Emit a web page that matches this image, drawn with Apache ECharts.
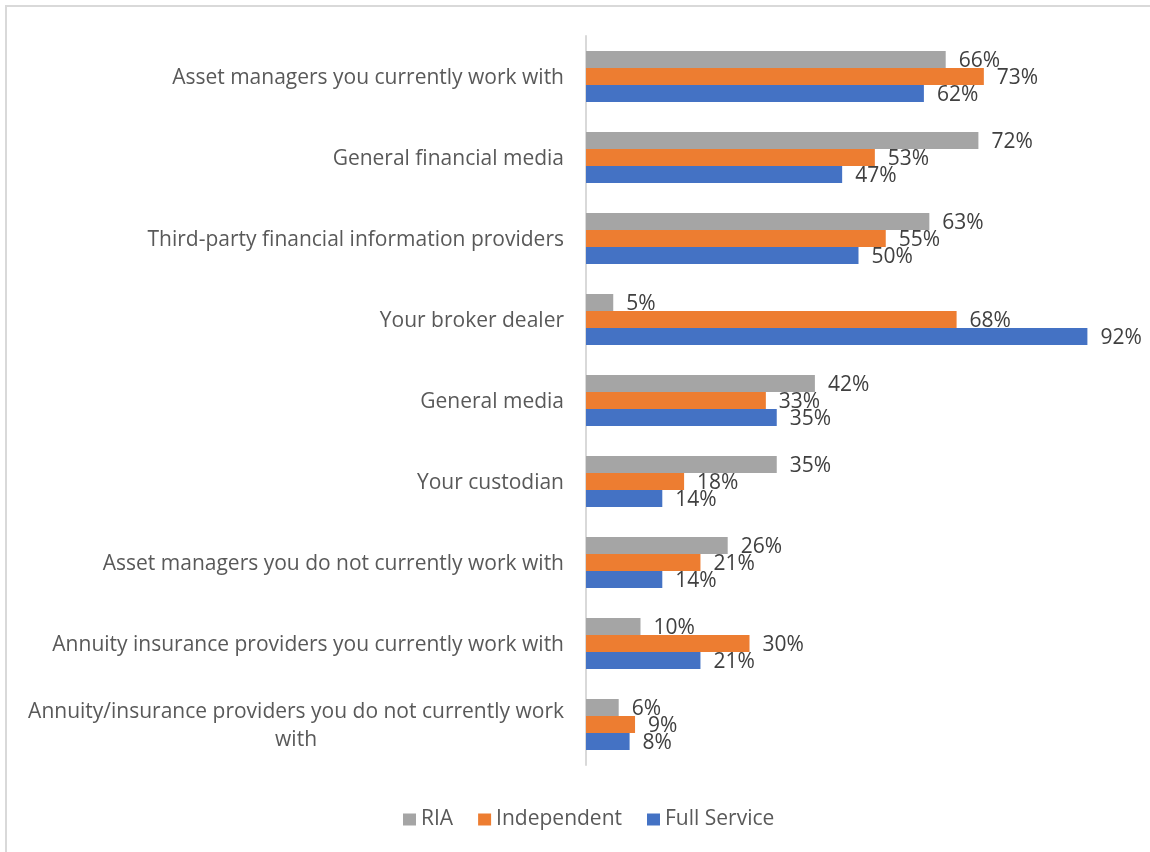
<!DOCTYPE html>
<html>
<head>
<meta charset="utf-8">
<script src="https://cdn.jsdelivr.net/npm/echarts@6/dist/echarts.min.js"></script>
<style>
  html, body { margin: 0; padding: 0; background: #ffffff; }
  #chart { width: 1150px; height: 852px; }
</style>
</head>
<body>
<div id="chart"></div>
<script>
// Information sources used, by advisor channel (share of respondents, %)
const categories = [
  'Asset managers you currently work with',
  'General financial media',
  'Third-party financial information providers',
  'Your broker dealer',
  'General media',
  'Your custodian',
  'Asset managers you do not currently work with',
  'Annuity insurance providers you currently work with',
  'Annuity/insurance providers you do not currently work\nwith'
];
const seriesNames = ['RIA', 'Independent', 'Full Service'];
const ria         = [66, 72, 63, 5, 42, 35, 26, 10, 6];
const independent = [73, 53, 55, 68, 33, 18, 21, 30, 9];
const fullService = [62, 47, 50, 92, 35, 14, 14, 21, 8];
const colors = ['#A5A5A5', '#ED7D31', '#4472C4'];

const FONT = '"Open Sans"';
const FONT_SIZE = 21;

function barSeries(name, values, color) {
  return {
    name: name,
    type: 'bar',
    data: values,
    barWidth: 17,
    barGap: '0%',
    itemStyle: { color: color },
    label: {
      show: true,
      position: 'right',
      distance: 13,
      offset: [0, 2],
      formatter: p => p.value + '%',
      fontFamily: FONT,
      fontSize: FONT_SIZE,
      color: '#404040'
    }
  };
}

const chart = echarts.init(document.getElementById('chart'), null, { renderer: 'canvas' });
chart.setOption({
  animation: false,
  backgroundColor: '#ffffff',
  textStyle: { fontFamily: FONT },
  graphic: [{
    type: 'rect',
    shape: { x: 6, y: 6, width: 1200, height: 900 },
    style: { fill: 'none', stroke: '#d9d9d9', lineWidth: 2 },
    silent: true
  }],
  grid: { left: 586, right: 19, top: 36, bottom: 87 },
  legend: {
    data: seriesNames,
    top: 804,
    left: 398,
    icon: 'rect',
    itemWidth: 13,
    itemHeight: 12,
    itemGap: 25,
    textStyle: { fontFamily: FONT, fontSize: FONT_SIZE, color: '#595959' }
  },
  xAxis: {
    type: 'value',
    min: 0,
    max: 100,
    show: false
  },
  yAxis: {
    type: 'category',
    data: categories,
    inverse: true,
    axisLine: { lineStyle: { color: '#d9d9d9', width: 2 } },
    axisTick: { show: false },
    axisLabel: {
      margin: 22,
      align: 'right',
      formatter: v => v.split('\n').map(l => '{c|' + l + '}').join('\n'),
      rich: {
        c: {
          align: 'center', fontFamily: FONT, fontSize: FONT_SIZE, color: '#595959',
          lineHeight: 28, padding: [4, 0, 0, 0]
        }
      }
    }
  },
  series: [
    barSeries(seriesNames[0], ria, colors[0]),
    barSeries(seriesNames[1], independent, colors[1]),
    barSeries(seriesNames[2], fullService, colors[2])
  ]
});
</script>
</body>
</html>
